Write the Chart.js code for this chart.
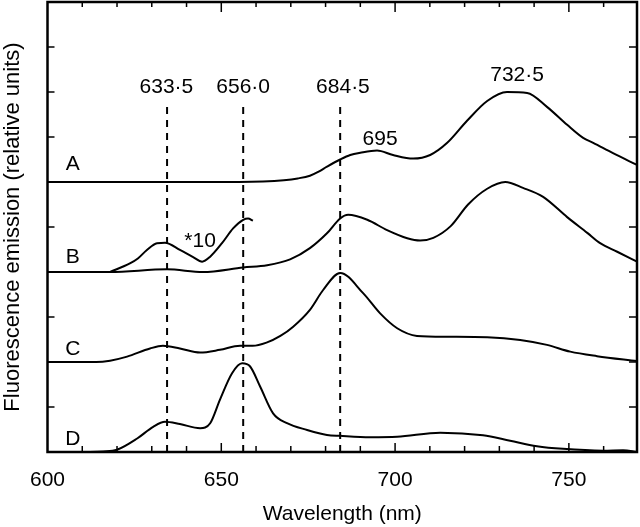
<!DOCTYPE html>
<html>
<head>
<meta charset="utf-8">
<script src="https://cdn.jsdelivr.net/npm/chart.js@4.4.1/dist/chart.umd.min.js"></script>
<style>
  html, body { margin: 0; padding: 0; background: #fff; }
  #wrap { width: 640px; height: 527px; }
</style>
</head>
<body>
<div id="wrap"><canvas id="spectraChart"></canvas></div>
<script>
// Emission spectra A-D (nm vs relative units, curves offset by 2)
const aWave = [600, 655, 662, 668, 672, 675.5, 678, 680.4, 684.2, 687.1, 690, 694.8, 699.4, 705.2, 710.1, 715, 720.7, 726.5, 732.2, 738, 743.7, 749.5, 754.1, 757, 762.7, 769.6];
const aSignal = [6.0, 6.0, 6.01, 6.04, 6.08, 6.14, 6.23, 6.34, 6.5, 6.6, 6.65, 6.7, 6.6, 6.52, 6.6, 6.87, 7.36, 7.8, 8.0, 7.98, 7.67, 7.27, 6.98, 6.87, 6.64, 6.38];

const bWave = [600, 618, 634.4, 644.7, 656.3, 663.2, 669.8, 675.5, 680.4, 684.2, 686.5, 692, 697.7, 703.5, 707.2, 711, 716, 721, 726.5, 731.7, 736.8, 742.6, 749.5, 755.3, 759, 763.9, 769.6];
const bSignal = [4.0, 4.0, 4.06, 4.0, 4.1, 4.15, 4.28, 4.53, 4.86, 5.19, 5.27, 5.16, 4.93, 4.75, 4.7, 4.76, 5.02, 5.5, 5.85, 6.0, 5.87, 5.67, 5.22, 4.87, 4.64, 4.45, 4.23];

// B magnified x10
const b10Wave = [618, 623.7, 626, 628.6, 631.5, 633.8, 638.1, 641.9, 644.5, 646.8, 650.2, 653.4, 656.3, 657.7, 659.1];
const b10Signal = [4.0, 4.19, 4.3, 4.49, 4.64, 4.65, 4.49, 4.33, 4.23, 4.34, 4.64, 4.97, 5.16, 5.19, 5.14];

const cWave = [600, 614, 618, 622.9, 629.5, 633.2, 638.1, 643.9, 649.6, 655.4, 659, 663, 667, 670.6, 675.5, 679.3, 684.2, 690.8, 695.7, 700.6, 706.3, 715, 726.5, 736, 743.7, 750.4, 758.1, 769.6];
const cSignal = [2.0, 2.0, 2.03, 2.12, 2.3, 2.36, 2.3, 2.21, 2.27, 2.36, 2.36, 2.43, 2.58, 2.78, 3.16, 3.6, 3.98, 3.53, 3.08, 2.75, 2.58, 2.56, 2.55, 2.49, 2.38, 2.23, 2.13, 2.02];

const dWave = [600, 612.2, 616, 620, 625.8, 630.4, 633.8, 638.1, 643.9, 646.8, 649.6, 653.1, 656, 658.3, 661.2, 664.9, 668.9, 674.7, 680.4, 684.2, 692.8, 700.6, 713, 725.3, 733.1, 740.8, 748.3, 759.9, 765.6, 769.6];
const dSignal = [0, 0, 0.01, 0.05, 0.3, 0.56, 0.67, 0.62, 0.53, 0.64, 1.16, 1.75, 1.97, 1.9, 1.45, 0.86, 0.64, 0.49, 0.38, 0.36, 0.33, 0.34, 0.43, 0.37, 0.25, 0.13, 0.07, 0.03, 0.04, 0.0];

// dashed marker lines
const markerWave = [634.4, 656.3, 684.2];
const markerTop = 7.8;

// text annotations (anchor in nm / relative units)
const noteText = ["633·5", "656·0", "684·5", "695", "732·5", "*10", "A", "B", "C", "D"];
const noteWave = [634.2, 656.3, 685, 695.7, 735.1, 643.9, 607.3, 607.3, 607.3, 607.3];
const noteLevel = [8.1, 8.1, 8.1, 6.96, 8.38, 4.69, 6.4, 4.32, 2.29, 0.29];

const xMin = 600;
const xMax = 769.6;

const FONT = "'Liberation Sans', Arial, Helvetica, sans-serif";
Chart.defaults.color = "#000";
Chart.defaults.font.family = FONT;

function toPoints(xs, ys) {
  return xs.map((x, i) => ({ x: x, y: ys[i] }));
}

function curve(xs, ys) {
  return {
    data: toPoints(xs, ys),
    borderColor: "#000",
    borderWidth: 2,
    pointRadius: 0,
    fill: false,
    cubicInterpolationMode: "monotone",
  };
}

const datasets = [
  curve(aWave, aSignal),
  curve(bWave, bSignal),
  curve(b10Wave, b10Signal),
  curve(cWave, cSignal),
  curve(dWave, dSignal),
];

markerWave.forEach((w) => {
  datasets.push({
    data: [{ x: w, y: 0 }, { x: w, y: markerTop }],
    borderColor: "#000",
    borderWidth: 2,
    borderDash: [7, 6],
    pointRadius: 0,
    fill: false,
  });
});

// box frame, inward ticks on all four sides, and the text labels
const frameAndNotes = {
  id: "frameAndNotes",
  afterDatasetsDraw(chart) {
    const { ctx, chartArea: a } = chart;
    const x = chart.scales.x;
    const y = chart.scales.y;
    ctx.save();
    ctx.strokeStyle = "#000";
    ctx.lineWidth = 1.5;
    const seg = (x1, y1, x2, y2) => {
      ctx.beginPath();
      ctx.moveTo(x1, y1);
      ctx.lineTo(x2, y2);
      ctx.stroke();
    };
    x.ticks.forEach((t) => {
      if (t.value <= x.min || t.value >= x.max) return;
      const px = x.getPixelForValue(t.value);
      const major = t.value % 50 === 0;
      seg(px, a.bottom, px, a.bottom - (major ? 9 : 6));
      seg(px, a.top, px, a.top + (major ? 10 : 5));
    });
    y.ticks.forEach((t) => {
      if (t.value <= y.min || t.value >= y.max) return;
      const py = y.getPixelForValue(t.value);
      seg(a.left, py, a.left + 7, py);
      seg(a.right, py, a.right - 8, py);
    });
    ctx.lineWidth = 2.5;
    ctx.strokeRect(a.left, a.top, a.right - a.left, a.bottom - a.top);

    ctx.fillStyle = "#000";
    ctx.font = "21px " + FONT;
    ctx.textAlign = "center";
    ctx.textBaseline = "middle";
    noteText.forEach((txt, i) => {
      ctx.fillText(txt, x.getPixelForValue(noteWave[i]), y.getPixelForValue(noteLevel[i]));
    });
    ctx.restore();
  },
};

new Chart(document.getElementById("spectraChart"), {
  type: "line",
  data: { datasets: datasets },
  plugins: [frameAndNotes],
  options: {
    responsive: true,
    maintainAspectRatio: false,
    animation: false,
    devicePixelRatio: 1,
    layout: { padding: { top: 2, right: 3, left: 0, bottom: 0 } },
    plugins: {
      legend: { display: false },
      tooltip: { enabled: false },
    },
    scales: {
      x: {
        type: "linear",
        min: xMin,
        max: xMax,
        grid: { display: false },
        border: { display: false },
        ticks: {
          stepSize: 10,
          includeBounds: false,
          autoSkip: false,
          maxRotation: 0,
          padding: 8,
          font: { size: 21 },
          callback: (v) => (v % 50 === 0 ? String(v) : ""),
        },
        title: {
          display: true,
          text: "Wavelength (nm)",
          font: { size: 21 },
          padding: { top: 0, bottom: 0 },
        },
        afterFit: (s) => {
          s.height = 75;
        },
      },
      y: {
        type: "linear",
        min: 0,
        max: 10,
        grid: { display: false },
        border: { display: false },
        ticks: { stepSize: 1, display: false },
        title: {
          display: true,
          text: "Fluorescence emission (relative units)",
          font: { size: 22 },
          padding: { top: 0, bottom: 0 },
        },
        afterFit: (s) => {
          s.width = 47.5;
        },
      },
    },
  },
});
</script>
</body>
</html>
